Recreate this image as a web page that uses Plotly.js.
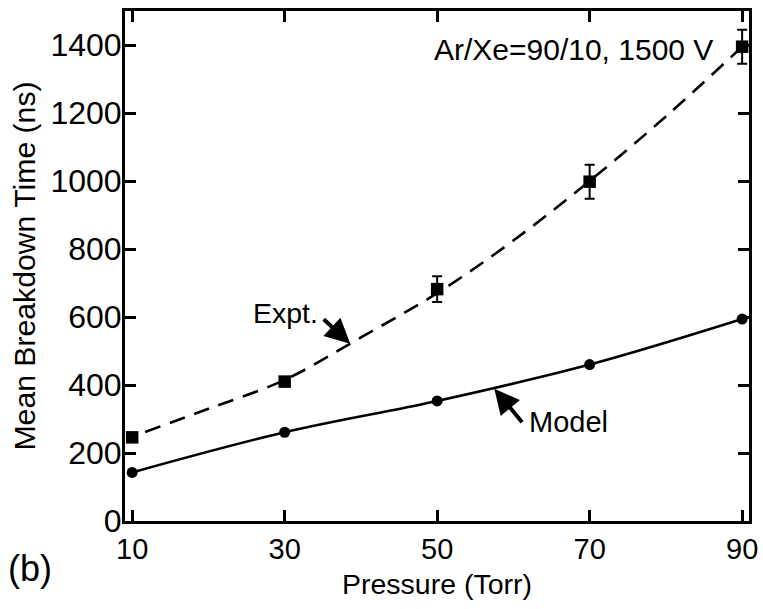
<!DOCTYPE html>
<html>
<head>
<meta charset="utf-8">
<script src="https://cdn.plot.ly/plotly-3.0.1.min.js"></script>
<style>html,body{margin:0;padding:0;background:#fff;}#chart{width:763px;height:609px;}</style>
</head>
<body>
<div id="chart"></div>
<script>
// Data
const pressure = [10, 30, 50, 70, 90];
const exptTime = [246, 410, 682, 998, 1395];
const exptErr = [0, 0, 38, 50, 50];
const modelTime = [143, 261, 353, 460, 594];
const fitPressure = [11.7, 20, 30, 40, 50, 60, 70, 80, 90];
const fitTime = [262, 330, 415, 540, 670, 825, 1000, 1190, 1395];
const xTicks = [10, 30, 50, 70, 90];
const yTicks = [0, 200, 400, 600, 800, 1000, 1200, 1400];

const FONT = 'Liberation Sans, Arial, sans-serif';

const traces = [
  {x: fitPressure, y: fitTime, mode: 'lines', line: {color: '#000', width: 2.6, dash: '16px,10px', shape: 'spline'}, hoverinfo: 'skip'},
  {x: pressure, y: exptTime, mode: 'markers', marker: {symbol: 'square', size: 12.5, color: '#000'},
   error_y: {type: 'data', array: exptErr, visible: true, color: '#000', thickness: 2, width: 5}},
  {x: pressure, y: modelTime, mode: 'lines+markers', line: {color: '#000', width: 2.6, shape: 'spline'},
   marker: {symbol: 'circle', size: 11, color: '#000'}}
];

const axisCommon = {
  showline: true, linecolor: '#000', linewidth: 3, mirror: 'ticks',
  ticks: 'inside', ticklen: 11, tickwidth: 3, tickcolor: '#000',
  showgrid: false, zeroline: false,
  tickfont: {family: FONT, size: 29, color: '#000'}
};

const layout = {
  width: 763, height: 609,
  margin: {l: 124.5, r: 14, t: 10.7, b: 88},
  paper_bgcolor: '#fff', plot_bgcolor: '#fff',
  showlegend: false,
  font: {family: FONT, size: 28, color: '#000'},
  xaxis: Object.assign({}, axisCommon, {
    range: [9.06, 90.9], tickvals: xTicks, ticktext: xTicks.map(String),
    title: {text: 'Pressure (Torr)', font: {family: FONT, size: 28.5, color: '#000'}, standoff: 11}
  }),
  yaxis: Object.assign({}, axisCommon, {
    range: [0, 1500], tickvals: yTicks, ticktext: yTicks.map(String),
    tickfont: {family: FONT, size: 32, color: '#000'}, ticklabelstandoff: -6,
    title: {text: 'Mean Breakdown Time (ns)', font: {family: FONT, size: 30.2, color: '#000'}, standoff: 6}
  }),
  annotations: [
    {x: 86.45, y: 1388, xref: 'x', yref: 'y', text: 'Ar/Xe=90/10, 1500 V', showarrow: false, xanchor: 'right', yanchor: 'middle', font: {family: FONT, size: 30, color: '#000'}},
    {x: 38.6, y: 521, xref: 'x', yref: 'y', ax: -28, ay: -26, text: '', showarrow: true, arrowhead: 2, arrowsize: 1.25, arrowwidth: 4, arrowcolor: '#000'},
    {x: 30.1, y: 612, xref: 'x', yref: 'y', text: 'Expt.', showarrow: false, xanchor: 'center', yanchor: 'middle', font: {family: FONT, size: 28.5, color: '#000'}},
    {x: 57.5, y: 389, xref: 'x', yref: 'y', ax: 29, ay: 35, text: '', showarrow: true, arrowhead: 2, arrowsize: 1.25, arrowwidth: 4, arrowcolor: '#000'},
    {x: 67.2, y: 290, xref: 'x', yref: 'y', text: 'Model', showarrow: false, xanchor: 'center', yanchor: 'middle', font: {family: FONT, size: 29, color: '#000'}},
    {x: -0.152, y: -0.094, xref: 'paper', yref: 'paper', text: '(b)', showarrow: false, xanchor: 'center', yanchor: 'middle', font: {family: FONT, size: 36, color: '#000'}}
  ]
};

Plotly.newPlot('chart', traces, layout, {staticPlot: true, displayModeBar: false});
</script>
</body>
</html>
